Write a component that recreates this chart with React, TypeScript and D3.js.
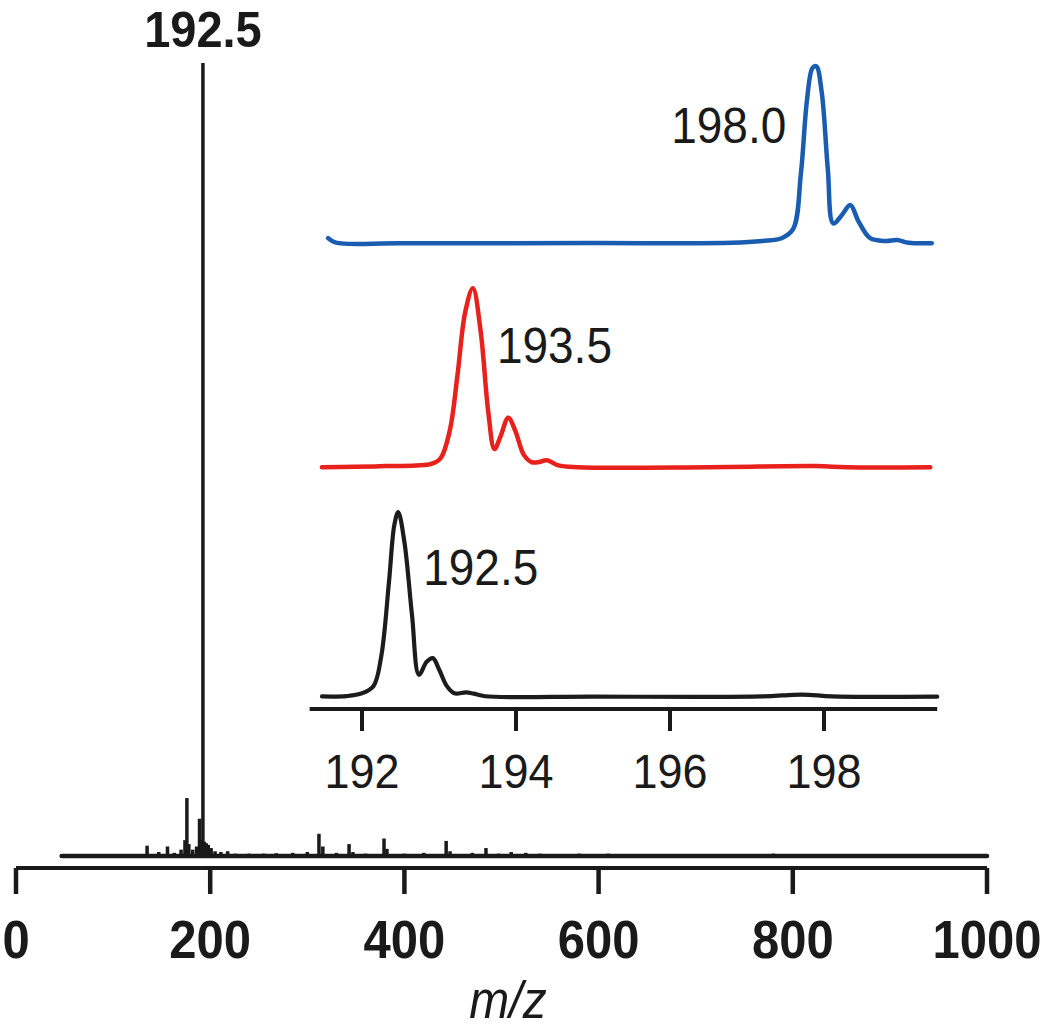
import React from "react";
import * as d3 from "d3";

// ---------- Data ----------
// Full-range spectrum sticks: [m/z, relative intensity %]
const mainPeaks: [number, number][] = [
  [135, 1.3], [147, 0.5], [156, 1.2], [163, 0.4], [170, 0.8], [174, 2.0], [176, 7.3],
  [178, 1.5], [182, 0.8], [186, 1.2], [189, 4.7], [191, 2.0], [192.5, 100], [194, 1.8],
  [196, 1.6], [198, 1.4], [201, 1.0], [205, 0.6], [211, 0.5], [218, 0.6], [226, 0.3],
  [240, 0.3], [255, 0.3], [268, 0.35], [285, 0.4], [300, 0.5], [312, 2.8], [316, 1.2],
  [330, 0.4], [343, 1.5], [347, 0.5], [360, 0.3], [379, 2.2], [382, 0.9], [400, 0.3],
  [420, 0.4], [443, 1.9], [447, 0.6], [470, 0.4], [484, 1.0], [497, 0.3], [510, 0.5],
  [525, 0.4], [540, 0.3], [560, 0.25], [580, 0.3], [610, 0.3], [640, 0.25], [670, 0.2],
  [700, 0.25], [740, 0.2], [780, 0.3], [820, 0.25], [860, 0.25], [900, 0.2], [940, 0.25],
  [975, 0.2],
];
const mainRange: [number, number] = [47, 1000];
const mainTicks = [0, 200, 400, 600, 800, 1000];
const mainPeakLabel = { mz: 192.5, text: "192.5" };

// Inset traces: [m/z, relative intensity %]
const blackTrace: [number, number][] = [
  [191.48, 0.3], [191.8, 0.5], [192.0, 2], [192.15, 6], [192.25, 22], [192.35, 62],
  [192.42, 93], [192.47, 100], [192.55, 84], [192.65, 44], [192.74, 12], [192.84, 19],
  [192.92, 21], [193.0, 15], [193.1, 6], [193.2, 2], [193.35, 2.5], [193.45, 1.8],
  [193.6, 0.4], [195.0, 0.2], [197.2, 0.3], [197.6, 1.2], [197.8, 1.2], [198.1, 0.3],
  [199.47, 0.2],
];
const redTrace: [number, number][] = [
  [191.48, 0.2], [191.9, 0.4], [192.3, 0.8], [192.7, 1.2], [192.9, 2], [193.02, 5],
  [193.14, 20], [193.24, 50], [193.34, 84], [193.44, 97], [193.54, 74], [193.64, 30],
  [193.72, 10], [193.8, 17], [193.9, 27], [193.99, 20], [194.1, 7], [194.2, 3],
  [194.3, 3], [194.4, 4], [194.55, 1.2], [194.8, 0.2], [196.5, 0.2], [197.9, 0.8],
  [198.3, 0.2], [199.38, 0.2],
];
const blueTrace: [number, number][] = [
  [191.56, 3], [191.66, 0.6], [192.5, 0.3], [195.0, 0.4], [196.8, 0.5], [197.2, 1.5],
  [197.45, 3], [197.6, 8], [197.7, 38], [197.78, 78], [197.85, 95], [197.9, 96],
  [197.97, 82], [198.05, 40], [198.12, 11], [198.24, 16], [198.34, 21], [198.45, 12],
  [198.6, 3], [198.8, 1.5], [198.95, 2], [199.1, 0.5], [199.4, 0.3],
];
const insetTraces = [
  { name: "192.5", data: blackTrace, offset: 0, color: "#1c1c1c", width: 4.2 },
  { name: "193.5", data: redTrace, offset: 124, color: "#e8211d", width: 4.5 },
  { name: "198.0", data: blueTrace, offset: 245, color: "#1a5db0", width: 4.5 },
];
const insetRange: [number, number] = [191.32, 199.47];
const insetTicks = [192, 194, 196, 198];

// ---------- Component ----------
export default function App() {
  const W = 1050;
  const H = 1030;
  const font = "'Liberation Sans', Arial, Helvetica, sans-serif";
  const ink = "#1a1a1a";
  const stretch = 1.08;

  // main scales
  const x = d3.scaleLinear().domain([0, 1000]).range([16, 987]);
  const y = d3.scaleLinear().domain([0, 100]).range([856, 63]);
  const axisY = 868;

  // inset scales
  const xi = d3.scaleLinear().domain([192, 198]).range([362, 824]);
  const yi = d3.scaleLinear().domain([0, 100]).range([697, 697 - 185]);
  const insetAxisY = 709;

  const line = (offset: number) =>
    d3
      .line<[number, number]>()
      .x((d) => xi(d[0]))
      .y((d) => yi(d[1] + offset))
      .curve(d3.curveCatmullRom.alpha(0.5));

  const labelPos: Record<string, { dx: number; dy: number; anchor: string }> = {
    "192.5": { dx: 25, dy: 73, anchor: "start" },
    "193.5": { dx: 24, dy: 75, anchor: "start" },
    "198.0": { dx: -30, dy: 77, anchor: "end" },
  };

  const T = (props: {
    x: number;
    y: number;
    size: number;
    anchor?: string;
    weight?: string;
    italic?: boolean;
    children: React.ReactNode;
  }) => (
    <text
      transform={`translate(${props.x},${props.y}) scale(1,${stretch})`}
      textAnchor={props.anchor || "middle"}
      fontSize={props.size}
      fontWeight={props.weight || "normal"}
      fontStyle={props.italic ? "italic" : "normal"}
      fill={ink}
    >
      {props.children}
    </text>
  );

  return (
    <svg
      width={W}
      height={H}
      style={{ position: "absolute", left: 0, top: 0, background: "#fff" }}
      fontFamily={font}
    >
      <rect width={W} height={H} fill="#fff" />

      {/* main spectrum baseline */}
      <line
        x1={x(mainRange[0])}
        x2={x(mainRange[1])}
        y1={y(0)}
        y2={y(0)}
        stroke={ink}
        strokeWidth={4.5}
        strokeLinecap="round"
      />
      {/* main spectrum sticks */}
      {mainPeaks.map(([mz, v], i) => (
        <line
          key={i}
          x1={x(mz)}
          x2={x(mz)}
          y1={y(0)}
          y2={y(v)}
          stroke={ink}
          strokeWidth={3.5}
        />
      ))}
      <T x={x(mainPeakLabel.mz)} y={47} size={47} weight="bold">
        {mainPeakLabel.text}
      </T>

      {/* main axis */}
      <line x1={x(0)} x2={x(1000)} y1={axisY} y2={axisY} stroke={ink} strokeWidth={4} />
      {mainTicks.map((t) => (
        <g key={t}>
          <line x1={x(t)} x2={x(t)} y1={axisY} y2={axisY + 26} stroke={ink} strokeWidth={4.5} />
          <T x={x(t)} y={958} size={49} weight="bold">
            {t}
          </T>
        </g>
      ))}
      <T x={508} y={1018} size={48} italic>
        m/z
      </T>

      {/* inset axis */}
      <line
        x1={xi(insetRange[0])}
        x2={xi(insetRange[1])}
        y1={insetAxisY}
        y2={insetAxisY}
        stroke={ink}
        strokeWidth={4.2}
      />
      {insetTicks.map((t) => (
        <g key={t}>
          <line x1={xi(t)} x2={xi(t)} y1={insetAxisY} y2={insetAxisY + 22} stroke={ink} strokeWidth={4} />
          <T x={xi(t)} y={788} size={45}>
            {t}
          </T>
        </g>
      ))}

      {/* inset traces */}
      {insetTraces.map((tr) => {
        const peak = tr.data.reduce((a, b) => (b[1] > a[1] ? b : a));
        const lp = labelPos[tr.name];
        return (
          <g key={tr.name}>
            <path
              d={line(tr.offset)(tr.data) || ""}
              fill="none"
              stroke={tr.color}
              strokeWidth={tr.width}
              strokeLinejoin="round"
              strokeLinecap="round"
            />
            <T x={xi(peak[0]) + lp.dx} y={yi(peak[1] + tr.offset) + lp.dy} size={46} anchor={lp.anchor}>
              {tr.name}
            </T>
          </g>
        );
      })}
    </svg>
  );
}
